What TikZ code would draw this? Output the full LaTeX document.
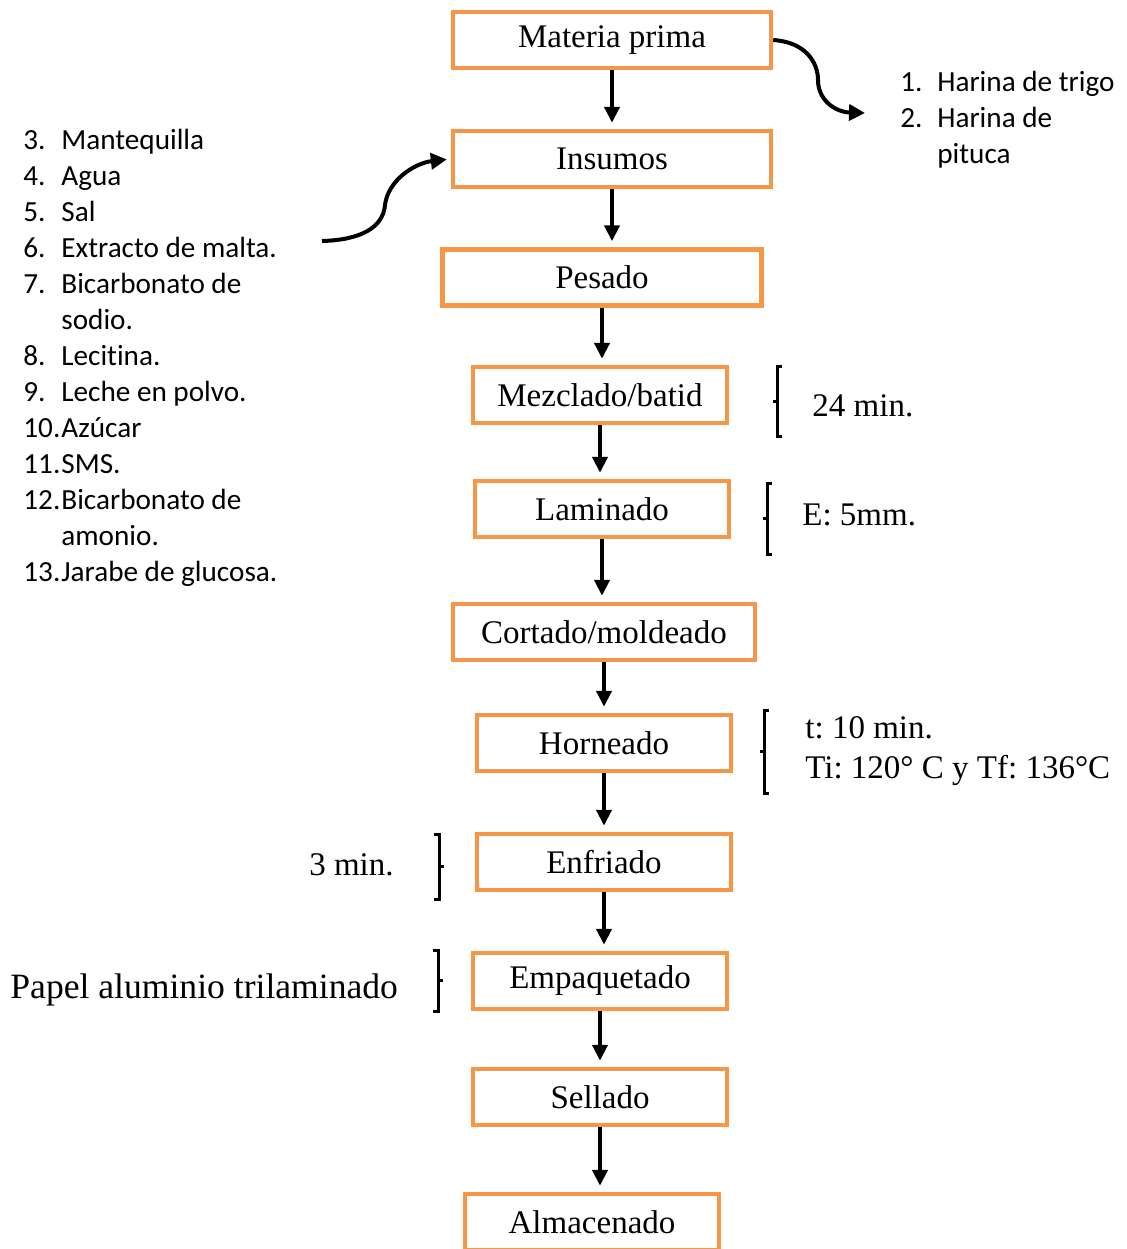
\documentclass[tikz,border=0pt]{standalone}
\usepackage{fontspec}
\setmainfont{Liberation Serif}
\newfontfamily\listfont[Ligatures=NoCommon]{Carlito}
\usetikzlibrary{arrows.meta}
\definecolor{boxorange}{HTML}{F79646}
\frenchspacing
\tikzset{
  stage/.style={draw=boxorange, line width=2.2pt, minimum height=28pt, inner sep=0pt, font=\fontsize{16.5}{20}\selectfont},
  flow/.style={line width=2.2pt, -{Triangle[width=7.5pt,length=8pt]}, shorten >=3pt},
  feed/.style={line width=2pt, -{Triangle[width=8pt,length=8pt]}},
  brk/.style={line width=1.5pt},
  note/.style={inner sep=0pt, font=\fontsize{16.5}{20}\selectfont, align=left},
  items/.style={inner sep=0pt, font=\listfont\fontsize{14.6}{18}\selectfont}
}
\begin{document}
\begin{tikzpicture}[x=0.5pt,y=-0.5pt]
\useasboundingbox (0,0) rectangle (1126,1249);
% process stages
\node[stage, minimum width=159pt] (mp) at (612,40) {Materia prima};
\node[stage, minimum width=159pt] (ins) at (612,159) {Insumos};
\node[stage, minimum width=159.5pt] (pes) at (602,277.5) {Pesado};
\node[stage, minimum width=127pt] (mez) at (600,395) {Mezclado/batid};
\node[stage, minimum width=127pt] (lam) at (602,509) {Laminado};
\node[stage, minimum width=151pt] (cor) at (604,632) {Cortado/moldeado};
\node[stage, minimum width=127pt] (hor) at (604,743) {Horneado};
\node[stage, minimum width=127pt] (enf) at (604,862) {Enfriado};
\node[stage, minimum width=127pt] (emp) at (600,981) {Empaquetado};
\node[stage, minimum width=127pt] (sel) at (600,1097) {Sellado};
\node[stage, minimum width=127pt] (alm) at (592,1222) {Almacenado};
\draw[flow] (mp.south) -- (mp.south |- ins.north);
\draw[flow] (ins.south) -- (ins.south |- pes.north);
\draw[flow] (pes.south) -- (pes.south |- mez.north);
\draw[flow] (mez.south) -- (mez.south |- lam.north);
\draw[flow] (lam.south) -- (lam.south |- cor.north);
\draw[flow] (cor.south) -- (cor.south |- hor.north);
\draw[flow] (hor.south) -- (hor.south |- enf.north);
\draw[flow] (enf.south) -- (enf.south |- emp.north);
\draw[flow] (emp.south) -- (emp.south |- sel.north);
\draw[flow] (sel.south) -- (sel.south |- alm.north);
% raw materials and inputs
\node[items, anchor=base west] (harinas) at (900,91) {\begin{tabular}[t]{@{}p{18.5pt}@{}l@{}}
1. & Harina de trigo\\
2. & Harina de\\
   & pituca
\end{tabular}};
\node[items, anchor=base west] (insumos) at (23,149) {\begin{tabular}[t]{@{}p{19pt}@{}l@{}}
3. & Mantequilla\\
4. & Agua\\
5. & Sal\\
6. & Extracto de malta.\\
7. & Bicarbonato de\\
   & sodio.\\
8. & Lecitina.\\
9. & Leche en polvo.\\
10.& Azúcar\\
11.& SMS.\\
12.& Bicarbonato de\\
   & amonio.\\
13.& Jarabe de glucosa.
\end{tabular}};
\coordinate (hd) at (865,113);
\coordinate (lst) at (322,241);
\draw[feed] (mp.east) .. controls (805,42) and (818,62) .. (818,80) .. controls (818,100) and (835,112) .. (hd);
\draw[feed, shorten >=2pt] (lst) .. controls (360,240) and (383,228) .. (385,205) .. controls (388,180) and (415,163) .. (ins.west);
% conditions
\draw[brk] (782,366) -- (777,366) -- (777,436) -- (782,436) (777,401) -- (773,401);
\node[note, anchor=base west] (t24) at (812,416) {24 min.};
\draw[brk] (772,483) -- (767,483) -- (767,554) -- (772,554) (767,518) -- (763,518);
\node[note, anchor=base west] (esp) at (802,525) {E: 5mm.};
\draw[brk] (769,710) -- (764,710) -- (764,793) -- (769,793) (764,751) -- (760,751);
\node[note, anchor=base west] (temp) at (805,778) {t: 10 min.\\Ti: 120° C y Tf: 136°C};
\draw[brk] (434,834) -- (439,834) -- (439,899) -- (434,899) (439,866) -- (444,866);
\node[note, anchor=base east] (t3) at (394,875) {3 min.};
\draw[brk] (433,950) -- (438,950) -- (438,1011) -- (433,1011) (438,980) -- (443,980);
\node[note, anchor=base west, font=\fontsize{17.8}{20}\selectfont] (pap) at (10,998) {Papel aluminio trilaminado};
\end{tikzpicture}
\end{document}
